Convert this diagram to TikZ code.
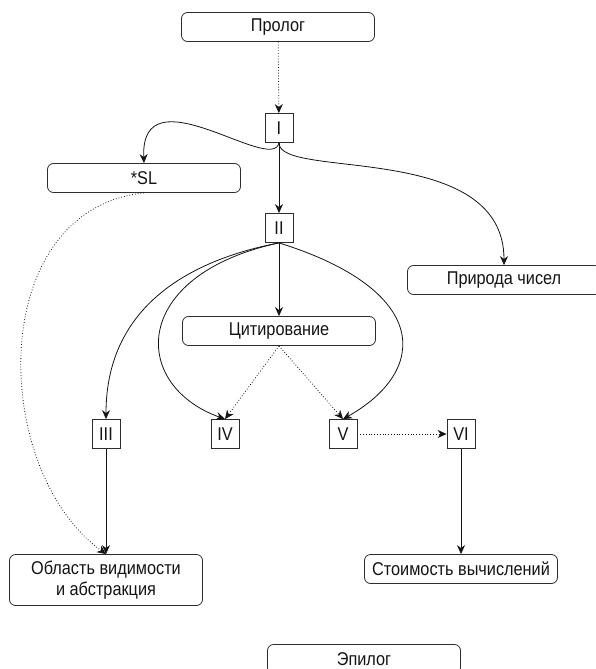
\documentclass[tikz,border=0pt]{standalone}
\usepackage{fontspec}
\setmainfont{Liberation Sans}[FakeStretch=0.88]
\usepackage{tikz}
\usetikzlibrary{arrows.meta}
\definecolor{BookGray}{RGB}{45,45,45}
\definecolor{BookInk}{RGB}{20,20,20}

\begin{document}
\begin{tikzpicture}[x=1pt,y=-1pt,
  chap/.style={rounded corners=6pt,draw=BookGray,fill=white,align=center,minimum width=193pt,
              minimum height=29pt,font=\fontsize{18.5}{21}\selectfont,inner sep=2pt,text=BookInk,
              line width=0.8pt},
  part/.style={draw=BookGray,fill=white,minimum width=28pt,minimum height=29pt,inner sep=0pt,
              font=\fontsize{18.5}{21}\selectfont,text=BookInk,line width=0.8pt},
  arrow/.style={-{Stealth[length=9pt,width=8pt]},draw=BookInk,line width=0.8pt},
  dots/.style={arrow,dotted}
]
\useasboundingbox (0,0) rectangle (595,669);

\node[chap] (pro) at (278,27) {Пролог};
\node[part] (p1) at (279,128) {I};
\node[chap] (sl) at (144,178) {*SL};
\node[part] (p2) at (279,228) {II};
\node[chap] (nat) at (504,280) {Природа чисел};
\node[chap] (cit) at (279,331) {Цитирование};
\node[part] (p3) at (106,434) {III};
\node[part] (p4) at (225,434) {IV};
\node[part] (p5) at (343,434) {V};
\node[part] (p6) at (461,434) {VI};
\node[chap,minimum height=51pt] (scope) at (106,580) {Область видимости\\и абстракция};
\node[chap] (cost) at (461,569) {Стоимость вычислений};
\node[chap] (epi) at (364,659) {Эпилог};

\draw[dots] (pro)--(p1);
\draw[arrow] (p1.south) .. controls (272,175) and (140,70) .. (sl.north);
\draw[arrow] (p1.south) .. controls (279,180) and (504,140) .. (nat.north);
\draw[arrow] (p1)--(p2);
\draw[arrow] (p2)--(cit);
\draw[arrow] (p2.south) .. controls (200,258) and (106,300) .. (p3.north);
\draw[arrow] (p2.south) .. controls (130,275) and (130,385) .. (p4.north);
\draw[arrow] (p2.south) .. controls (430,290) and (430,370) .. (p5.north);
\draw[dots] (cit.south)--(p4.north);
\draw[dots] (cit.south)--(p5.north);
\draw[dots] (p5)--(p6);
\draw[arrow] (p6)--(cost);
\draw[arrow] (p3)--(scope);
\draw[dots] (sl.south) .. controls (-15,210) and (-10,470) .. (scope.north);
\end{tikzpicture}
\end{document}
